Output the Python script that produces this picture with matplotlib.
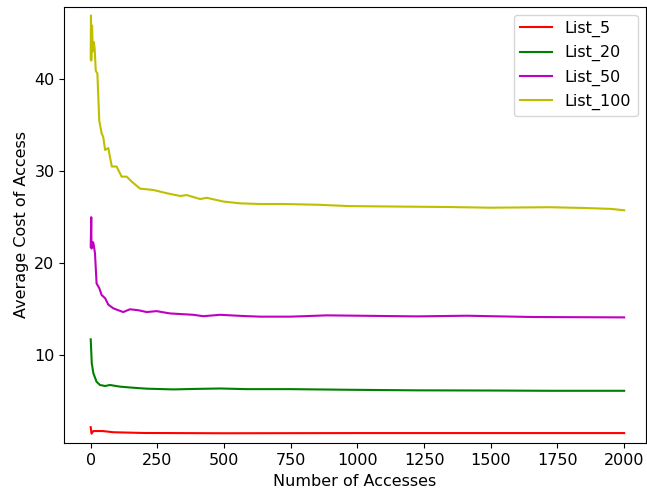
import numpy as np
import matplotlib
matplotlib.use("Agg")
import matplotlib.pyplot as plt

# values
x_5 = [0, 3, 10, 45, 85, 200, 500, 1000, 1500, 2000]
y_5 = [2.2, 1.5, 1.78, 1.78, 1.65, 1.57, 1.54, 1.56, 1.56, 1.56]

x_20 = [0, 4, 10, 22, 35, 54, 72, 110, 160, 210, 310, 385, 485, 585, 750,
        972, 1222, 1500, 1722, 2000]
y_20 = [11.74, 9.13, 8.05, 7.13, 6.78, 6.67, 6.78, 6.6, 6.48, 6.38, 6.3, 6.35,
        6.4, 6.33, 6.33, 6.26, 6.2, 6.18, 6.15, 6.15]

x_50 = [0, 2, 3, 8, 10, 16, 22, 32, 41, 54, 66, 85, 103, 122, 147, 178, 210,
        247, 297, 385, 422, 485, 572, 635, 750, 885, 1222, 1410, 1660, 2000]
y_50 = [21.8, 25.0, 21.6, 22.3, 22.2, 21.1, 17.8, 17.3, 16.55, 16.2, 15.5,
        15.1, 14.9, 14.7, 15.0, 14.9, 14.7, 14.8, 14.55, 14.4, 14.25, 14.4,
        14.27, 14.2, 14.2, 14.34, 14.23, 14.3, 14.16, 14.12]

x_100 = [0, 1, 2, 5, 8, 12, 15, 19, 25, 32, 41, 47, 54, 66, 79, 97, 116, 135,
         154, 185, 235, 285, 335, 360, 410, 435, 497, 560, 635, 722, 850, 972,
         1160, 1347, 1497, 1722, 1847, 1950, 2000]
y_100 = [42.2, 46.9, 42.0, 45.8, 43.0, 44.0, 43.2, 40.9, 40.6, 35.5, 34.1, 33.7,
         32.3, 32.5, 30.5, 30.5, 29.4, 29.4, 28.85, 28.1, 27.95, 27.6, 27.3,
         27.4, 26.97, 27.1, 26.7, 26.5, 26.43, 26.43, 26.35, 26.2, 26.15, 26.1,
         26.03, 26.08, 26.0, 25.9, 25.75]

plt.rcParams['font.size'] = 11.5

fig = plt.figure(figsize=(6.47, 4.93), dpi=100)
ax = fig.add_axes([64.3/647, 49.7/493, (645.5 - 64.3)/647, (443.3 - 6.7)/493])

ax.plot(x_5, y_5, 'r', label='List_5')
ax.plot(x_20, y_20, 'g', label='List_20')
ax.plot(x_50, y_50, 'm', label='List_50')
ax.plot(x_100, y_100, 'y', label='List_100')

ax.set_xlim(-99, 2080)
ax.set_ylim(0.45, 47.85)
ax.set_xticks([0, 250, 500, 750, 1000, 1250, 1500, 1750, 2000])
ax.set_yticks([10, 20, 30, 40])
ax.set_xlabel('Number of Accesses')
ax.set_ylabel('Average Cost of Access')
ax.legend(loc='upper right')

fig.savefig('out.png', dpi=100)
